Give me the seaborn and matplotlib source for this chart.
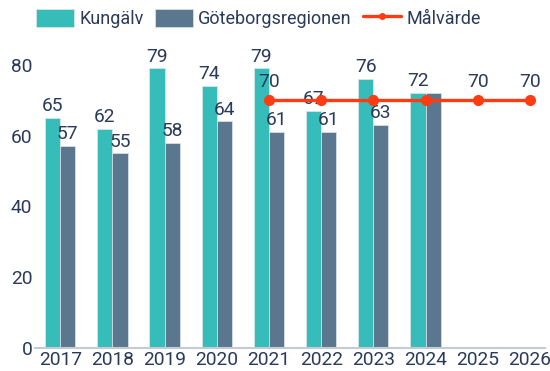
import matplotlib
matplotlib.use("Agg")
import matplotlib.pyplot as plt
from matplotlib.patches import Patch
from matplotlib.lines import Line2D
import numpy as np
import pandas as pd
import seaborn as sns

years = ["2017", "2018", "2019", "2020", "2021", "2022", "2023", "2024", "2025", "2026"]
kungalv = [65, 62, 79, 74, 79, 67, 76, 72]
goteborgsregionen = [57, 55, 58, 64, 61, 61, 63, 72]
target_years = ["2021", "2022", "2023", "2024", "2025", "2026"]
target = [70, 70, 70, 70, 70, 70]
series_names = ["Kungälv", "Göteborgsregionen", "Målvärde"]

TEAL = "#36bdb9"
SLATE = "#5b778f"
RED = "#ff3b12"
TEXT = "#2a3a5a"
FS = 13.8

sns.set_theme(style="white")
plt.rcParams["font.family"] = ["Roboto", "DejaVu Sans"]

df = pd.DataFrame({
    "year": years[:len(kungalv)] * 2,
    "value": kungalv + goteborgsregionen,
    "series": [series_names[0]] * len(kungalv) + [series_names[1]] * len(goteborgsregionen),
})

fig = plt.figure(figsize=(5.5, 3.71), dpi=100)
ax = fig.add_axes([0.064, 0.062, 0.927, 0.830])

sns.barplot(data=df, x="year", y="value", hue="series", order=years,
            hue_order=series_names[:2], palette=[TEAL, SLATE], saturation=1,
            width=0.58, edgecolor="#dfe6ea", linewidth=0.5, ax=ax, legend=False)

# value labels above the bars; labels that would collide with others are skipped
label_sets = [
    [str(v) for v in kungalv],
    [str(v) if y != "2024" else "" for v, y in zip(goteborgsregionen, years)],
]
for cont, labs in zip(ax.containers, label_sets):
    ax.bar_label(cont, labels=labs, padding=2, fontsize=FS, color=TEXT)

# target line
tx = [years.index(y) for y in target_years]
sns.lineplot(x=tx, y=target, color=RED, linewidth=2.4, marker="o", markersize=8,
             markeredgewidth=0, ax=ax, legend=False, zorder=5)
crowded = {"2022", "2023", "2024"}
for x, y, v in zip(tx, target_years, target):
    if y in crowded:
        continue
    ax.annotate(str(v), (x, v), xytext=(0, 7), textcoords="offset points",
                ha="center", va="bottom", fontsize=FS, color=TEXT, zorder=6)

ax.set_xlim(-0.48, 9.29)
ax.set_ylim(0, 87)
ax.set_yticks([0, 20, 40, 60, 80])
ax.set_xlabel("")
ax.set_ylabel("")
ax.tick_params(axis="both", length=0, labelsize=FS, labelcolor=TEXT)
ax.tick_params(axis="x", pad=2)
ax.tick_params(axis="y", pad=2)
for s in ["top", "right", "left"]:
    ax.spines[s].set_visible(False)
ax.spines["bottom"].set_color("#c3ccd4")
ax.spines["bottom"].set_linewidth(1.5)

handles = [
    Patch(facecolor=TEAL, edgecolor="#dfe6ea", linewidth=0.5),
    Patch(facecolor=SLATE, edgecolor="#dfe6ea", linewidth=0.5),
    Line2D([0], [0], color=RED, linewidth=2.4, marker="o", markersize=5, markeredgewidth=0),
]
fig.legend(handles, series_names, loc="center", bbox_to_anchor=(0.47, 0.951), ncol=3,
           frameon=False, fontsize=13, labelcolor=TEXT, handlelength=2.1,
           handleheight=1.2, handletextpad=0.3, columnspacing=0.6, borderaxespad=0)

fig.savefig("out.png", dpi=100)
